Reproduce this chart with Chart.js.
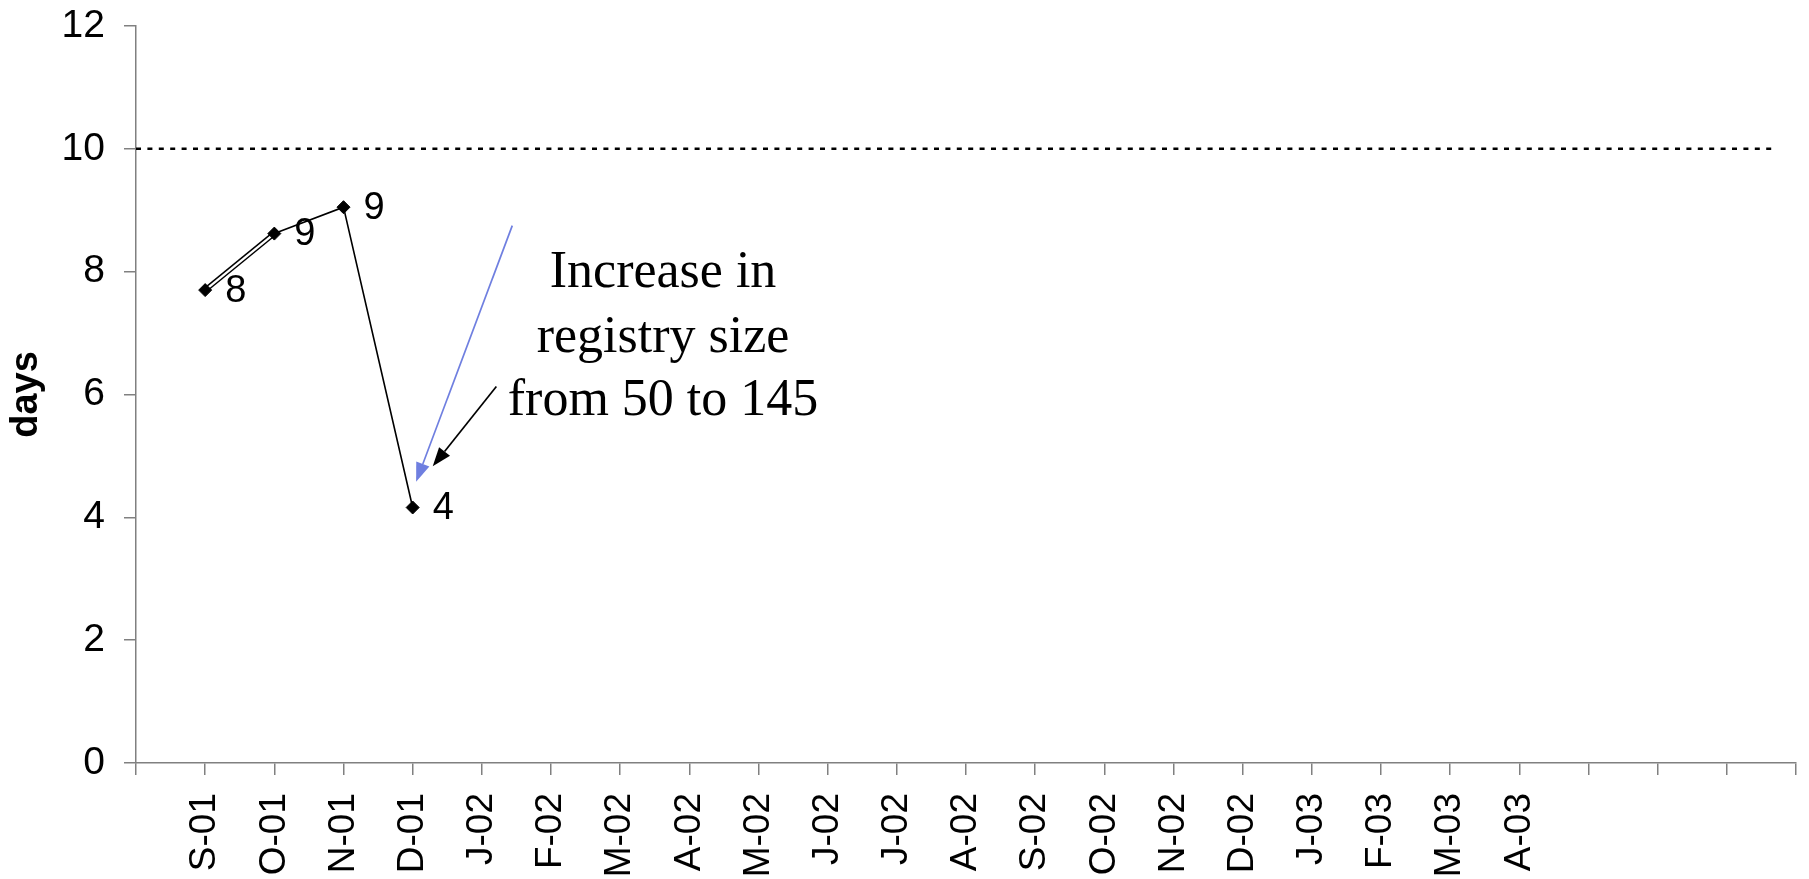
<!DOCTYPE html>
<html>
<head>
<meta charset="utf-8">
<title>days</title>
<style>
  html, body { margin: 0; padding: 0; background: #fff; }
  #chart { display: block; }
</style>
</head>
<body>
<canvas id="chart" width="1809" height="879"></canvas>
<script src="https://cdn.jsdelivr.net/npm/chart.js@4"></script>
<script>
const months = ['', 'S-01', 'O-01', 'N-01', 'D-01', 'J-02', 'F-02', 'M-02', 'A-02', 'M-02', 'J-02', 'J-02',
  'A-02', 'S-02', 'O-02', 'N-02', 'D-02', 'J-03', 'F-03', 'M-03', 'A-03', '', '', '', ''];
const days = [null, 7.7, 8.62, 9.05, 4.16];
const target = 10;
const noteLines = ['Increase in', 'registry size', 'from 50 to 145'];

// annotation anchors, in data units (x = category index, y = days)
const note = { x: 7.62, y: [7.75, 6.7, 5.67] };
const blueArrow = { from: [5.44, 8.75], to: [4.05, 4.58] };
const blackArrow = { from: [5.21, 6.13], to: [4.29, 4.83] };
const targetEnd = 23.72;

const sans = '"Liberation Sans", Arial, sans-serif';
const serif = '"Liberation Serif", "Times New Roman", serif';

// the S-01 -> O-01 segment is drawn as a double line in the original
const doubleSeg = days.map((v, i) => (i === 1 || i === 2 ? v : null));

function drawArrow(ctx, x1, y1, x2, y2, color, width, headLen, headW) {
  const a = Math.atan2(y2 - y1, x2 - x1);
  const bx = x2 - Math.cos(a) * headLen;
  const by = y2 - Math.sin(a) * headLen;
  ctx.strokeStyle = color;
  ctx.fillStyle = color;
  ctx.lineWidth = width;
  ctx.beginPath();
  ctx.moveTo(x1, y1);
  ctx.lineTo(bx, by);
  ctx.stroke();
  ctx.beginPath();
  ctx.moveTo(x2, y2);
  ctx.lineTo(bx + Math.sin(a) * headW / 2, by - Math.cos(a) * headW / 2);
  ctx.lineTo(bx - Math.sin(a) * headW / 2, by + Math.cos(a) * headW / 2);
  ctx.closePath();
  ctx.fill();
}

const extras = {
  id: 'extras',
  beforeDatasetsDraw(chart) {
    const { ctx, scales: { x, y } } = chart;
    ctx.save();
    ctx.strokeStyle = '#000';
    ctx.lineWidth = 2.5;
    ctx.setLineDash([5, 6.4]);
    ctx.beginPath();
    ctx.moveTo(x.getPixelForValue(0), y.getPixelForValue(target));
    ctx.lineTo(x.getPixelForValue(targetEnd), y.getPixelForValue(target));
    ctx.stroke();
    ctx.restore();
  },
  afterDatasetsDraw(chart) {
    const { ctx, scales: { x, y } } = chart;
    ctx.save();

    // value labels next to the points
    ctx.fillStyle = '#000';
    ctx.font = '38px ' + sans;
    ctx.textAlign = 'left';
    ctx.textBaseline = 'middle';
    chart.getDatasetMeta(0).data.forEach((pt, i) => {
      if (days[i] == null) return;
      ctx.fillText(String(Math.round(days[i])), pt.x + 20, pt.y + 1);
    });

    // arrows
    const px = (p) => [x.getPixelForValue(p[0]), y.getPixelForValue(p[1])];
    const [b1x, b1y] = px(blueArrow.from);
    const [b2x, b2y] = px(blueArrow.to);
    drawArrow(ctx, b1x, b1y, b2x, b2y, '#6f7fe0', 1.7, 19, 14);
    const [k1x, k1y] = px(blackArrow.from);
    const [k2x, k2y] = px(blackArrow.to);
    drawArrow(ctx, k1x, k1y, k2x, k2y, '#000', 1.7, 19, 14);

    // note text
    ctx.fillStyle = '#000';
    ctx.font = '52px ' + serif;
    ctx.textAlign = 'center';
    ctx.textBaseline = 'alphabetic';
    noteLines.forEach((t, i) => {
      ctx.fillText(t, x.getPixelForValue(note.x), y.getPixelForValue(note.y[i]));
    });
    ctx.restore();
  },
};

new Chart(document.getElementById('chart'), {
  type: 'line',
  data: {
    labels: months,
    datasets: [
      {
        label: 'days',
        data: days,
        borderColor: '#000',
        borderWidth: 1.6,
        pointStyle: 'rectRot',
        pointRadius: 6.5,
        pointBorderWidth: 1,
        pointBackgroundColor: '#000',
        pointBorderColor: '#000',
        spanGaps: false,
        segment: {
          borderColor: (c) => (c.p0DataIndex === 1 ? 'rgba(0,0,0,0)' : '#000'),
        },
      },
      {
        label: 'inner',
        data: doubleSeg,
        borderColor: '#fff',
        borderWidth: 2.2,
        pointRadius: 0,
      },
      {
        label: 'outer',
        data: doubleSeg,
        borderColor: '#000',
        borderWidth: 5.2,
        pointRadius: 0,
      },
    ],
  },
  options: {
    responsive: false,
    devicePixelRatio: 1,
    animation: false,
    layout: { padding: { top: 26, right: 13, bottom: 0, left: 0 } },
    plugins: {
      legend: { display: false },
      tooltip: { enabled: false },
    },
    scales: {
      x: {
        offset: false,
        grid: { drawOnChartArea: false, drawTicks: true, tickLength: 12, color: '#808080', lineWidth: 1.5 },
        border: { color: '#808080', width: 1.5 },
        ticks: {
          autoSkip: false,
          minRotation: 90,
          maxRotation: 90,
          padding: 18,
          color: '#000',
          font: { family: sans, size: 37 },
        },
        afterFit: (s) => {
          s.height = 116;
          s.paddingLeft = 0;
          s.paddingRight = 0;
        },
      },
      y: {
        min: 0,
        max: 12,
        grid: { drawOnChartArea: false, drawTicks: true, tickLength: 12, color: '#808080', lineWidth: 1.5 },
        border: { color: '#808080', width: 1.5 },
        ticks: {
          stepSize: 2,
          padding: 19,
          color: '#000',
          font: { family: sans, size: 39 },
        },
        title: {
          display: true,
          text: 'days',
          color: '#000',
          padding: 4,
          font: { family: sans, size: 38, weight: 'bold' },
        },
        afterFit: (s) => {
          s.width = 136;
          s.paddingTop = 0;
          s.paddingBottom = 0;
        },
      },
    },
  },
  plugins: [extras],
});
</script>
</body>
</html>
